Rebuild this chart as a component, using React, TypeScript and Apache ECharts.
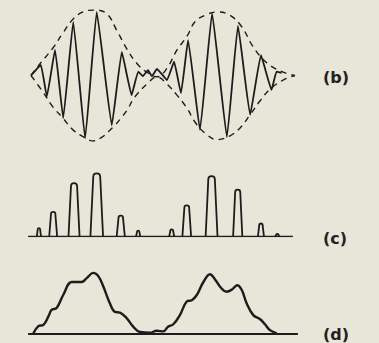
import React, { useEffect, useRef } from "react";
import * as echarts from "echarts";

// Panel (b): modulated carrier [time, amplitude]
const carrier: number[][] = [
  [0, 0], [3.7, 0.16], [6.0, -0.32], [9.1, 0.39], [12.2, -0.65], [16.0, 0.82],
  [20.5, -0.96], [24.9, 0.97], [30.6, -0.76], [34.4, 0.36], [38.1, -0.3],
  [40.6, 0.06], [42.4, -0.01], [44.3, 0.08], [45.8, -0.01], [47.7, 0.1],
  [49.6, 0.02], [51.5, -0.07], [54.2, 0.21], [56.8, -0.27], [59.5, 0.54],
  [64.0, -0.83], [68.6, 0.95], [74.2, -0.94], [78.4, 0.76], [83.0, -0.6],
  [87.1, 0.31], [91.1, -0.22], [93.0, 0.06], [94.9, 0.04],
];
// Panel (b): dashed envelope, upper and lower
const envUpper: number[][] = [
  [0, 0], [3.4, 0.18], [8.3, 0.42], [12.1, 0.65], [15.9, 0.86], [19.7, 0.97],
  [24.2, 1.0], [28.8, 0.94], [32.6, 0.68], [36.4, 0.4], [40.2, 0.18],
  [43.9, 0.05], [47.7, -0.02], [51.5, 0.11], [55.3, 0.39], [59.1, 0.6],
  [62.1, 0.82], [65.9, 0.92], [70.5, 0.97], [75.4, 0.92], [79.9, 0.74],
  [84.1, 0.44], [89.4, 0.19], [95.5, 0.05], [100, 0],
];
const envLower: number[][] = [
  [0, 0], [4.5, -0.25], [8.3, -0.48], [12.1, -0.65], [15.9, -0.83], [20.5, -0.95],
  [23.5, -1.0], [26.9, -0.94], [29.2, -0.86], [31.8, -0.76], [34.5, -0.63],
  [36.4, -0.53], [38.6, -0.37], [40.5, -0.27], [43.9, -0.13], [47.7, -0.02],
  [51.5, -0.13], [55.3, -0.3], [59.1, -0.5], [62.1, -0.71], [65.9, -0.88],
  [70.5, -0.98], [75.4, -0.92], [79.2, -0.8], [83.0, -0.6], [86.7, -0.39],
  [90.5, -0.21], [95.5, -0.07], [100, 0],
];
// Panel (c): pulses [centre time, height, base width]
const pulses: number[][] = [
  [3.0, 0.13, 1.6], [8.4, 0.38, 3.0], [16.3, 0.82, 4.2], [24.9, 0.97, 4.8],
  [34.0, 0.32, 3.1], [40.6, 0.09, 1.6], [53.3, 0.11, 1.9], [59.0, 0.48, 3.3],
  [68.4, 0.93, 4.5], [78.3, 0.72, 3.5], [87.1, 0.2, 2.3], [93.3, 0.04, 1.6],
];
const baselineC: number[][] = [[-1.1, 0], [99.2, 0]];
// Panel (d): detected output [time, amplitude]
const detected: number[][] = [
  [0.9, 0.01], [2.8, 0.12], [4.7, 0.14], [6.6, 0.27], [7.8, 0.37], [9.7, 0.4],
  [12.2, 0.6], [15.4, 0.8], [17.9, 0.8], [19.2, 0.8], [21.1, 0.86], [23.6, 0.94],
  [25.5, 0.89], [27.4, 0.73], [29.9, 0.47], [31.8, 0.34], [33.7, 0.33],
  [36.3, 0.24], [38.8, 0.11], [41.3, 0.03], [45.1, 0.02], [47.6, 0.05],
  [50.1, 0.04], [51.9, 0.11], [53.9, 0.15], [56.4, 0.29], [59.0, 0.5],
  [60.9, 0.52], [62.8, 0.6], [65.3, 0.8], [67.8, 0.92], [69.7, 0.84],
  [72.2, 0.7], [74.1, 0.65], [76.0, 0.68], [78.1, 0.75], [79.8, 0.68],
  [81.7, 0.47], [84.2, 0.29], [86.7, 0.23], [88.6, 0.15], [90.5, 0.06], [93.1, 0.01],
];
const baselineD: number[][] = [[-1.1, 0], [101.1, 0]];
const panelLabels = ["(b)", "(c)", "(d)"];

const INK = "#1c1c1c";
const BG = "#e8e5d9";

export default function App() {
  const ref = useRef<HTMLDivElement>(null);
  useEffect(() => {
    if (!ref.current) return;
    const chart = echarts.init(ref.current, undefined, { renderer: "svg" });
    const xAxisBase = { type: "value", min: -5, max: 105, show: false };
    const gridBase = { left: 17.8, width: 290.4 };
    chart.setOption({
      animation: false,
      backgroundColor: BG,
      grid: [
        { ...gridBase, top: 10, height: 131 },
        { ...gridBase, top: 171.5, height: 65 },
        { ...gridBase, top: 269, height: 65 },
      ],
      xAxis: [0, 1, 2].map((i) => ({ ...xAxisBase, gridIndex: i })),
      yAxis: [
        { type: "value", min: -1, max: 1, show: false, gridIndex: 0 },
        { type: "value", min: 0, max: 1, show: false, gridIndex: 1 },
        { type: "value", min: 0, max: 1, show: false, gridIndex: 2 },
      ],
      series: [
        {
          type: "line", xAxisIndex: 0, yAxisIndex: 0, data: envUpper, smooth: 0.4,
          symbol: "none", lineStyle: { color: INK, width: 1.4, type: [6, 5] },
        },
        {
          type: "line", xAxisIndex: 0, yAxisIndex: 0, data: envLower, smooth: 0.4,
          symbol: "none", lineStyle: { color: INK, width: 1.4, type: [6, 5] },
        },
        {
          type: "line", xAxisIndex: 0, yAxisIndex: 0, data: carrier, smooth: 0.1,
          symbol: "none", lineStyle: { color: INK, width: 1.8, join: "round" },
        },
        {
          type: "line", xAxisIndex: 1, yAxisIndex: 1, data: baselineC,
          symbol: "none", lineStyle: { color: INK, width: 1.6 },
        },
        {
          type: "custom", xAxisIndex: 1, yAxisIndex: 1, data: pulses,
          renderItem: (_p: any, api: any) => {
            const c = api.value(0), h = api.value(1), w = api.value(2);
            const base = api.coord([c, 0]);
            const top = api.coord([c, h]);
            const left = api.coord([c - w / 2, 0]);
            const right = api.coord([c + w / 2, 0]);
            const hw = (right[0] - left[0]) / 2;
            const H = base[1] - top[1];
            const r = Math.min(hw * 0.55, H * 0.5);
            const xc = base[0], yt = top[1], yb = base[1];
            const d = `M${left[0]},${yb} L${xc - r},${yt + r} C${xc - r},${yt - r / 3} ${xc + r},${yt - r / 3} ${xc + r},${yt + r} L${right[0]},${yb}`;
            return {
              type: "path",
              shape: { pathData: d },
              style: { fill: "none", stroke: INK, lineWidth: 1.8, lineJoin: "round" },
            };
          },
        },
        {
          type: "line", xAxisIndex: 2, yAxisIndex: 2, data: baselineD,
          symbol: "none", lineStyle: { color: INK, width: 2 },
        },
        {
          type: "line", xAxisIndex: 2, yAxisIndex: 2, data: detected, smooth: 0.4,
          symbol: "none", lineStyle: { color: INK, width: 2.4 },
        },
      ],
      graphic: panelLabels.map((t, i) => ({
        type: "text",
        x: 323,
        y: [77, 238, 334][i],
        style: {
          text: t,
          fill: "#222",
          font: 'bold 16px "DejaVu Sans"',
          verticalAlign: "middle",
        },
      })),
    });
    return () => chart.dispose();
  }, []);
  return (
    <div
      ref={ref}
      style={{ position: "fixed", left: 0, top: 0, width: 379, height: 343 }}
    />
  );
}
